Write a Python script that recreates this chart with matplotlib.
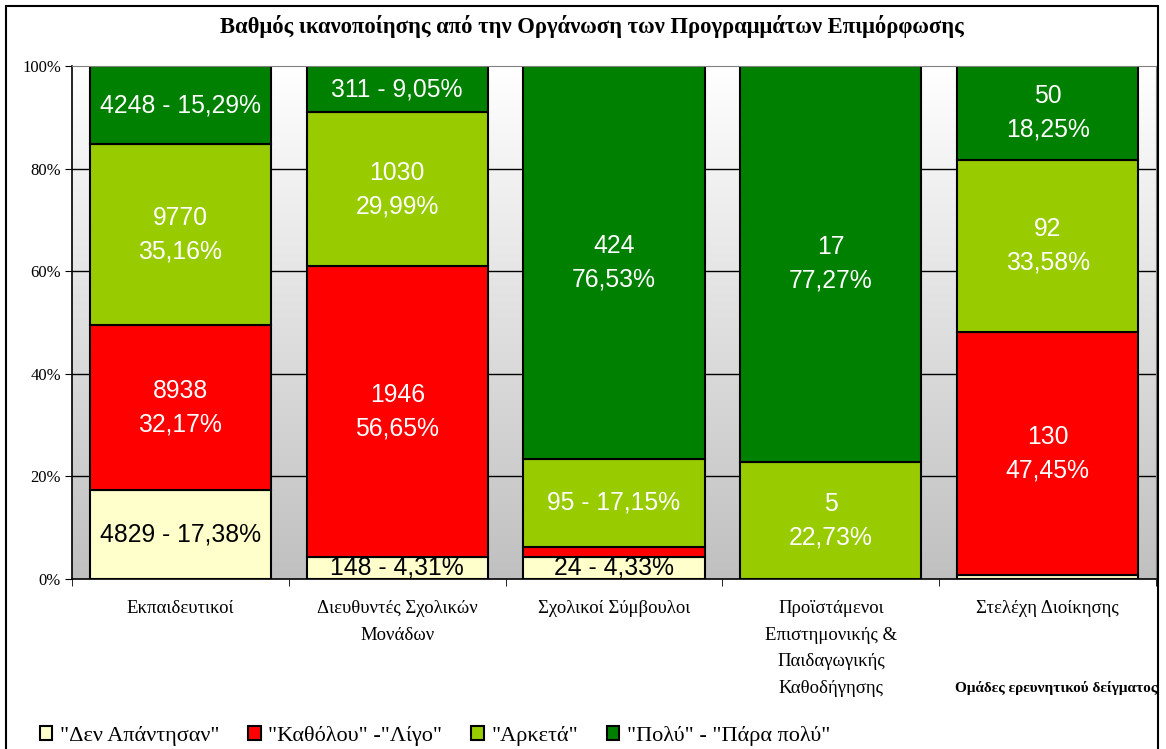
import numpy as np
import matplotlib.pyplot as plt
from matplotlib.patches import Rectangle

categories = ["Εκπαιδευτικοί", "Διευθυντές Σχολικών\nΜονάδων", "Σχολικοί Σύμβουλοι",
              "Προϊστάμενοι\nΕπιστημονικής &\nΠαιδαγωγικής\nΚαθοδήγησης", "Στελέχη Διοίκησης"]
series = ['"Δεν Απάντησαν"', '"Καθόλου" -"Λίγο"', '"Αρκετά"', '"Πολύ" - "Πάρα πολύ"']

no_answer = [4829, 148, 24, 0, 2]
little = [8938, 1946, 11, 0, 130]
enough = [9770, 1030, 95, 5, 92]
much = [4248, 311, 424, 17, 50]

# labels written on one line "n - p%" (category, series)
one_line = [(0, 0), (0, 3), (1, 0), (1, 3), (2, 0), (2, 2)]
# segments left without a label
no_label = [(2, 1), (4, 0)]

colors = ["#FFFFCC", "#FF0000", "#99CC00", "#008000"]
text_colors = ["black", "white", "white", "white"]

counts = np.array([no_answer, little, enough, much], dtype=float)
pct = counts / counts.sum(axis=0) * 100

fig = plt.figure(figsize=(11.66, 7.49), dpi=100)
ax = fig.add_axes([72/1166, 1-579/749, (1156-72)/1166, (579-66)/749])

# background gradient
grad = np.linspace(1.0, 0.0, 256).reshape(-1, 1)
ax.imshow(grad, cmap=plt.matplotlib.colors.LinearSegmentedColormap.from_list(
    "g", ["#c0c0c0", "#ffffff"]), aspect="auto", extent=(-0.5, 4.5, 0, 100),
    zorder=0, origin="upper")
for yv in [20, 40, 60, 80]:
    ax.axhline(yv, color="black", lw=1, zorder=1)

x = np.arange(len(categories))
bottom = np.zeros(len(categories))
for j in range(4):
    ax.bar(x, pct[j], 0.835, bottom=bottom, color=colors[j], edgecolor="black",
           lw=1.5, zorder=2, label=series[j])
    for i in range(len(categories)):
        if counts[j, i] == 0 or (i, j) in no_label:
            continue
        p = f"{pct[j, i]:.2f}".replace(".", ",") + "%"
        n = int(counts[j, i])
        s = f"{n} - {p}" if (i, j) in one_line else f"{n}\n{p}"
        ax.text(x[i], bottom[i] + pct[j, i] / 2, s, ha="center", va="center",
                color=text_colors[j], fontsize=17.8, family="Liberation Sans",
                linespacing=1.5, zorder=3)
    bottom += pct[j]

ax.set_xlim(-0.5, 4.5)
ax.set_ylim(0, 100)
ax.set_yticks([0, 20, 40, 60, 80, 100])
ax.set_yticklabels(["0%", "20%", "40%", "60%", "80%", "100%"],
                   family="Liberation Serif", fontsize=12)
ax.set_xticks(x)
ax.set_xticklabels(categories, family="Liberation Serif", fontsize=13.5,
                   linespacing=1.75, va="top")
ax.tick_params(axis="x", length=0, pad=15)
ax.set_xticks(np.arange(-0.5, 5, 1), minor=True)
ax.tick_params(axis="x", which="minor", length=5, direction="out")
ax.tick_params(axis="y", length=5, direction="out", pad=3)
ax.spines["top"].set_color("#808080")
ax.spines["right"].set_color("#808080")
ax.spines["left"].set_linewidth(1.2)
ax.spines["bottom"].set_linewidth(1.2)

fig.text(592/1166, 1-26/749, "Βαθμός ικανοποίησης από την Οργάνωση των Προγραμμάτων Επιμόρφωσης",
         ha="center", va="center", family="Liberation Serif", fontsize=16.3, weight="bold")
fig.text(1157/1166, 1-688/749, "Ομάδες ερευνητικού δείγματος", ha="right", va="center",
         family="Liberation Serif", fontsize=11, weight="bold")

fig.legend(loc="center left", bbox_to_anchor=(20/1166, 1-736/749), ncol=4, frameon=False,
           prop={"family": "Liberation Serif", "size": 16}, handlelength=0.55,
           handleheight=0.55, handletextpad=0.35, columnspacing=1.3)

fig.patches.append(Rectangle((6/1166, -0.02), (1158-6)/1166, 1.02 - 6/749,
                             transform=fig.transFigure, fill=False, ec="black", lw=1.5))

fig.savefig("out.png", dpi=100)
